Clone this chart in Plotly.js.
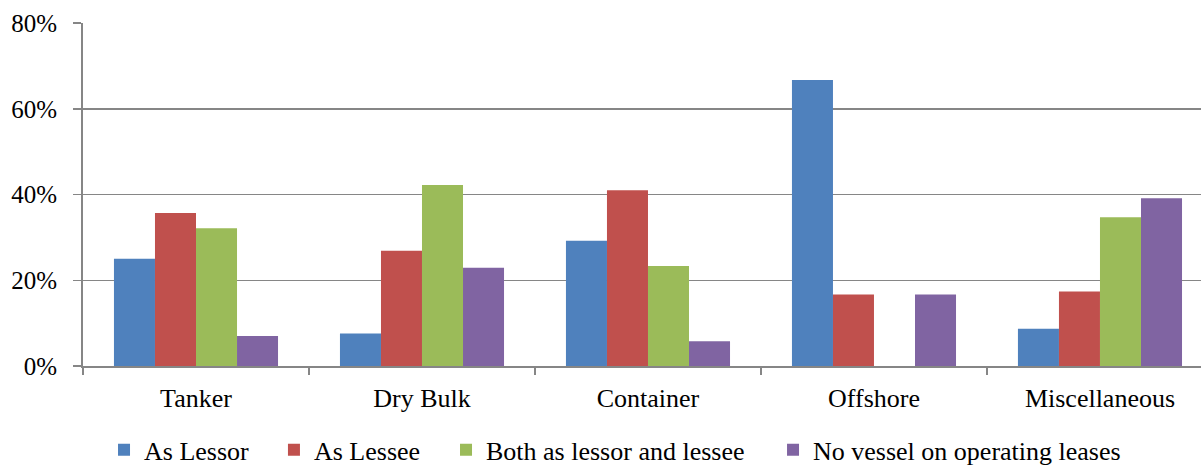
<!DOCTYPE html>
<html>
<head>
<meta charset="utf-8">
<script src="https://cdn.plot.ly/plotly-3.0.1.min.js"></script>
<style>
html,body{margin:0;padding:0;background:#fff;}
#chart{width:1201px;height:466px;}
</style>
</head>
<body>
<div id="chart"></div>
<script>
const categories = ["Tanker", "Dry Bulk", "Container", "Offshore", "Miscellaneous"];
const seriesNames = ["As Lessor", "As Lessee", "Both as lessor and lessee", "No vessel on operating leases"];
const asLessor = [0.250, 0.076, 0.292, 0.667, 0.087];
const asLessee = [0.357, 0.269, 0.410, 0.167, 0.174];
const bothLessorLessee = [0.321, 0.422, 0.233, 0.0, 0.347];
const noVessel = [0.070, 0.229, 0.058, 0.167, 0.391];
const yTickValues = [0, 0.2, 0.4, 0.6, 0.8];

const colors = ["#4F81BD", "#C0504D", "#9BBB59", "#8064A2"];
const seriesValues = [asLessor, asLessee, bothLessorLessee, noVessel];
const legendIds = ["legend", "legend2", "legend3", "legend4"];
const legendX = [0.0188, 0.1708, 0.3247, 0.6172];

const traces = seriesValues.map((vals, i) => ({
  type: "bar",
  name: seriesNames[i],
  x: categories,
  y: vals,
  legend: legendIds[i],
  marker: {color: colors[i], line: {width: 0}},
  hoverinfo: "skip"
}));

const FAM = "Liberation Serif";

const layout = {
  width: 1201,
  height: 466,
  margin: {l: 83, r: 0, t: 23, b: 100, pad: 0, autoexpand: false},
  paper_bgcolor: "#fff",
  plot_bgcolor: "#fff",
  barmode: "group",
  bargap: 0.274,
  bargroupgap: 0,
  font: {family: FAM, color: "#000", size: 26},
  showlegend: true,
  xaxis: {
    type: "category",
    range: [-0.5, 4.447],
    tickson: "boundaries",
    ticks: "outside",
    ticklen: 7,
    tickwidth: 1.5,
    tickcolor: "#868686",
    showline: true,
    linecolor: "#868686",
    linewidth: 2,
    showgrid: false,
    zeroline: false,
    tickfont: {family: FAM, color: "#000", size: 26},
    ticklabelstandoff: 8,
    fixedrange: true
  },
  yaxis: {
    range: [0, 0.8],
    tickvals: yTickValues,
    tickformat: ".0%",
    ticks: "outside",
    ticklen: 8,
    tickwidth: 1.5,
    tickcolor: "#868686",
    showline: true,
    linecolor: "#868686",
    linewidth: 2,
    showgrid: true,
    gridcolor: "#868686",
    gridwidth: 1.5,
    zeroline: false,
    tickfont: {family: FAM, color: "#000", size: 25},
    ticklabelstandoff: 11,
    fixedrange: true
  }
};

legendIds.forEach((id, i) => {
  layout[id] = {
    orientation: "h",
    x: legendX[i], xanchor: "left",
    y: -0.176, yanchor: "top",
    font: {family: FAM, color: "#000", size: 26},
    bgcolor: "rgba(0,0,0,0)",
    itemwidth: 30
  };
});

Plotly.newPlot("chart", traces, layout, {displayModeBar: false, staticPlot: true});
</script>
</body>
</html>
